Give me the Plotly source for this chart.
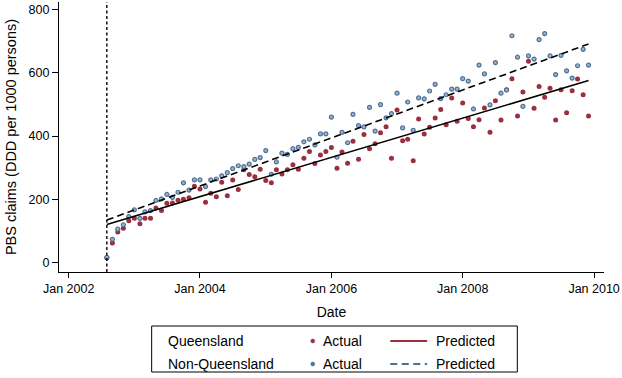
import plotly.graph_objects as go
import pandas as pd

# ---- data ----
months = pd.date_range("2002-08-01", "2009-12-01", freq="MS")

qld_actual = [14, 61, 96, 108, 132, 140, 122, 140, 140, 172, 164, 187, 188, 197, 200, 205, 241, 232, 190, 219,
              208, 254, 211, 261, 231, 293, 278, 271, 295, 259,
              252, 293, 280, 293, 309, 295, 330, 351, 313, 340, 351, 364, 298, 350, 314, 384, 327, 405, 360, 376,
              411, 430, 330, 483, 385, 390, 322, 454, 407, 428,
              457, 484, 436, 521, 447, 505, 456, 430, 452, 489, 412, 512, 451, 547, 582, 464, 540, 637, 488, 557,
              523, 552, 451, 547, 474, 544, 581, 531, 464]

nonqld_actual = [16, 73, 105, 119, 145, 166, 139, 160, 164, 196, 201, 215, 206, 222, 252, 229, 261, 261, 240, 261,
                 264, 274, 284, 297, 306, 303, 311, 326, 332, 354,
                 279, 318, 346, 342, 360, 364, 382, 390, 372, 407, 407, 460, 333, 412, 379, 469, 433, 429, 491, 416,
                 500, 458, 471, 536, 426, 508, 418, 521, 518, 543,
                 564, 519, 531, 549, 549, 582, 574, 486, 625, 597, 499, 633, 536, 546, 718, 650, 494, 654, 644, 706,
                 725, 654, 595, 656, 607, 584, 623, 675, 625]

pred_dates = ["2002-08-01", "2009-12-01"]
qld_pred = [120, 576]
nonqld_pred = [134, 692]

intervention_date = "2002-08-01"

tick_dates = ["2002-01-01", "2004-01-01", "2006-01-01", "2008-01-01", "2010-01-01"]
tick_labels = ["Jan 2002", "Jan 2004", "Jan 2006", "Jan 2008", "Jan 2010"]
y_ticks = [0, 200, 400, 600, 800]

RED = "#9b2f3e"
BLUE = "#4c7096"
FONT = "Liberation Sans"

fig = go.Figure()

fig.add_trace(go.Scatter(x=months, y=qld_actual, mode="markers",
                         marker=dict(color=RED, size=5, line=dict(width=0)),
                         showlegend=False, cliponaxis=False))
fig.add_trace(go.Scatter(x=months, y=nonqld_actual, mode="markers",
                         marker=dict(color="#9fb4c9", size=4, line=dict(color=BLUE, width=1.2)),
                         showlegend=False, cliponaxis=False))
fig.add_trace(go.Scatter(x=pred_dates, y=qld_pred, mode="lines",
                         line=dict(color="black", width=1.6), showlegend=False))
fig.add_trace(go.Scatter(x=pred_dates, y=nonqld_pred, mode="lines",
                         line=dict(color="black", width=1.6, dash="7px,4px"), showlegend=False))

# intervention line
fig.add_shape(type="line", x0=intervention_date, x1=intervention_date, xref="x",
              y0=0, y1=1, yref="paper", line=dict(color="black", width=1.4, dash="3px,2.5px"))

# ---- legend (manual, Stata-style) ----
L, W, T, H = 59, 547, 2, 270


def px(xp):
    return (xp - L) / W


def py(yp):
    return (T + H - yp) / H


fig.add_shape(type="rect", xref="paper", yref="paper",
              x0=px(152), x1=px(519), y0=py(326), y1=py(372),
              line=dict(color="black", width=1))
rows = [("Queensland", RED, "solid", 341), ("Non-Queensland", BLUE, "7px,4.5px", 364)]
for label, col, dash, yy in rows:
    fig.add_annotation(text=label, xref="paper", yref="paper", x=px(166), y=py(yy),
                       xanchor="left", yanchor="middle", showarrow=False,
                       font=dict(family=FONT, size=14, color="black"))
    fig.add_shape(type="circle", xref="paper", yref="paper", xsizemode="pixel", ysizemode="pixel",
                  xanchor=px(313.7), yanchor=py(yy), x0=-2, x1=2, y0=-2, y1=2,
                  fillcolor=col, line=dict(color=col, width=0.5))
    fig.add_annotation(text="Actual", xref="paper", yref="paper", x=px(322), y=py(yy),
                       xanchor="left", yanchor="middle", showarrow=False,
                       font=dict(family=FONT, size=14, color="black"))
    fig.add_shape(type="line", xref="paper", yref="paper",
                  x0=px(391.5), x1=px(428.5), y0=py(yy), y1=py(yy),
                  line=dict(color=col, width=2, dash=dash))
    fig.add_annotation(text="Predicted", xref="paper", yref="paper", x=px(435), y=py(yy),
                       xanchor="left", yanchor="middle", showarrow=False,
                       font=dict(family=FONT, size=14, color="black"))

fig.update_layout(
    width=622, height=378,
    margin=dict(l=L, r=622 - L - W, t=T, b=378 - T - H),
    plot_bgcolor="white", paper_bgcolor="white",
    font=dict(family=FONT, color="black"),
    xaxis=dict(type="date", range=["2001-11-08", "2010-02-25"],
               tickvals=tick_dates, ticktext=tick_labels,
               showgrid=False, zeroline=False, showline=True, linecolor="black", linewidth=1.2,
               ticks="outside", ticklen=5, tickwidth=1.2, tickcolor="black",
               tickfont=dict(family=FONT, size=12.5),
               title=dict(text="Date", font=dict(family=FONT, size=14), standoff=12)),
    yaxis=dict(range=[-30.7, 825], tickvals=y_ticks,
               showgrid=False, zeroline=False, showline=True, linecolor="black", linewidth=1.2,
               ticks="outside", ticklen=6, tickwidth=1.2, tickcolor="black",
               tickfont=dict(family=FONT, size=12.5),
               title=dict(text="PBS claims (DDD per 1000 persons)", font=dict(family=FONT, size=14.5),
                          standoff=8)),
)

fig.write_html("out.html", config={"displayModeBar": False},
               post_script="document.body.style.margin='0';")
